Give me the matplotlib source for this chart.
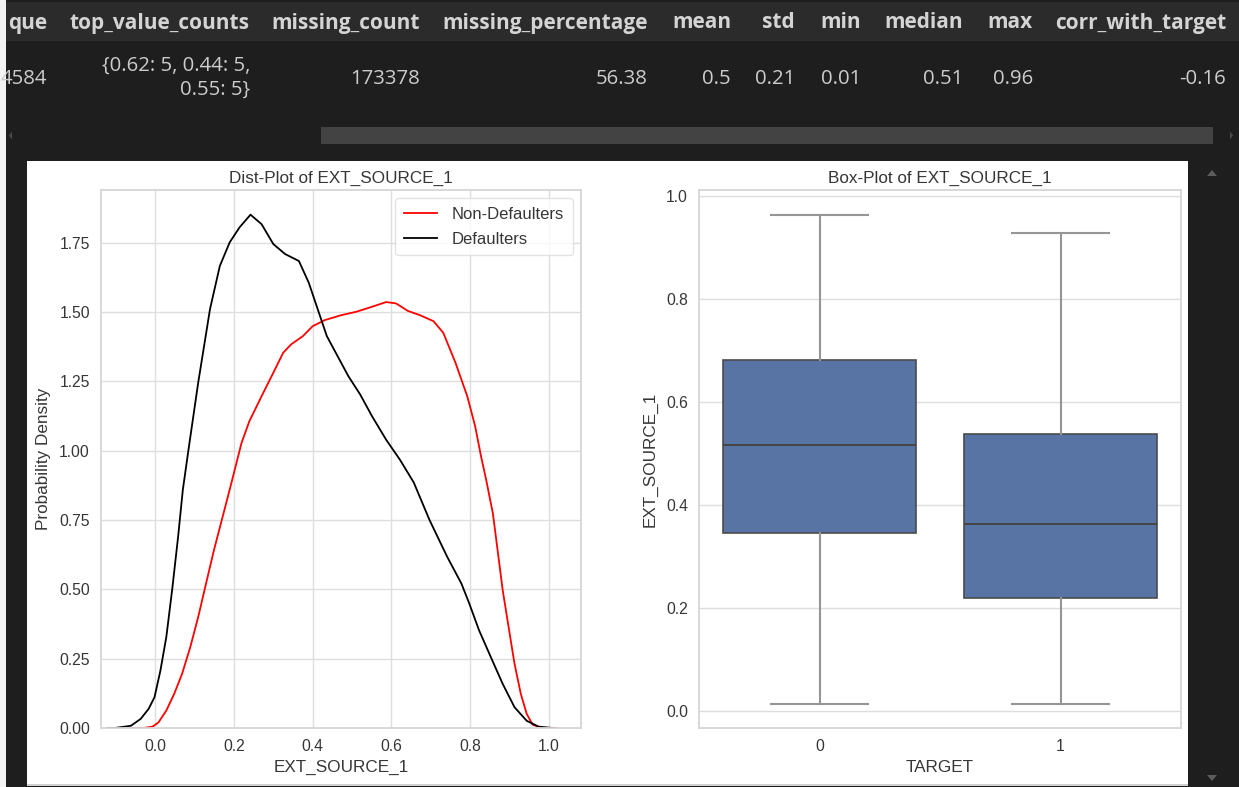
import numpy as np
import matplotlib
matplotlib.use("Agg")
import matplotlib.pyplot as plt
from matplotlib.patches import Rectangle, Polygon

W, H = 1239, 787
DPI = 100

# ---------------- data ----------------
header_labels = ["que", "top_value_counts", "missing_count", "missing_percentage",
                 "mean", "std", "min", "median", "max", "corr_with_target"]
row_values = ["4584", "{0.62: 5, 0.44: 5,\n0.55: 5}", "173378", "56.38",
              "0.5", "0.21", "0.01", "0.51", "0.96", "-0.16"]

# KDE of EXT_SOURCE_1 for TARGET == 0 (Non-Defaulters)
kde_x_non = [-0.06, -0.03, -0.007, 0.008, 0.028, 0.048, 0.068, 0.089, 0.109, 0.129,
             0.149, 0.169, 0.189, 0.204, 0.219, 0.239, 0.270, 0.300, 0.325, 0.345,
             0.375, 0.400, 0.431, 0.471, 0.511, 0.551, 0.587, 0.612, 0.642, 0.672,
             0.707, 0.732, 0.763, 0.793, 0.813, 0.828, 0.841, 0.858, 0.871, 0.883,
             0.898, 0.913, 0.929, 0.944, 0.959, 0.984, 1.02]
kde_y_non = [0.0, 0.0, 0.005, 0.02, 0.063, 0.123, 0.195, 0.292, 0.40, 0.521,
             0.641, 0.75, 0.859, 0.943, 1.027, 1.106, 1.196, 1.281, 1.353, 1.383,
             1.413, 1.449, 1.471, 1.488, 1.501, 1.519, 1.536, 1.531, 1.504, 1.489,
             1.467, 1.425, 1.317, 1.196, 1.088, 0.979, 0.895, 0.774, 0.63, 0.497,
             0.364, 0.232, 0.123, 0.051, 0.012, 0.0, 0.0]

# KDE of EXT_SOURCE_1 for TARGET == 1 (Defaulters)
kde_x_def = [-0.12, -0.103, -0.062, -0.037, -0.017, -0.002, 0.013, 0.028, 0.043, 0.058,
             0.070, 0.084, 0.109, 0.139, 0.164, 0.189, 0.214, 0.242, 0.270, 0.300,
             0.330, 0.365, 0.390, 0.410, 0.436, 0.461, 0.491, 0.521, 0.551, 0.587,
             0.622, 0.657, 0.697, 0.742, 0.778, 0.798, 0.823, 0.853, 0.883, 0.913,
             0.944, 0.974, 1.01]
kde_y_def = [0.0, 0.0, 0.008, 0.033, 0.069, 0.111, 0.207, 0.328, 0.50, 0.69,
             0.859, 1.0, 1.245, 1.51, 1.666, 1.751, 1.805, 1.851, 1.817, 1.745,
             1.709, 1.684, 1.606, 1.522, 1.413, 1.347, 1.268, 1.202, 1.124, 1.039,
             0.967, 0.885, 0.75, 0.617, 0.521, 0.449, 0.352, 0.255, 0.159, 0.075,
             0.026, 0.005, 0.0]

# Box-plot statistics per TARGET
targets = ["0", "1"]
box_whislo = [0.014, 0.014]
box_q1 = [0.345, 0.220]
box_med = [0.517, 0.362]
box_q3 = [0.681, 0.537]
box_whishi = [0.962, 0.928]

# ---------------- layout helpers ----------------
def fx(px):
    return px / W

def fy(py):
    return 1 - py / H

BG = "#1e1e1e"
fig = plt.figure(figsize=(W / DPI, H / DPI), dpi=DPI, facecolor=BG)

def rect(x0, y0, x1, y1, color):
    fig.patches.append(Rectangle((fx(x0), fy(y1)), fx(x1) - fx(x0), fy(y0) - fy(y1),
                                 transform=fig.transFigure, facecolor=color,
                                 edgecolor="none", zorder=-10))

rect(0, 0, 6, H, "#f3f3f3")          # light strip at the very left
rect(6, 2, W, 41, "#2b2b2b")         # table header band
rect(321, 127, 1213, 144, "#434343")  # horizontal scrollbar thumb
rect(27, 161, 1188, 784, "white")    # output panel
rect(27, 784, 1188, 786, "#d0d0d0")

def tri(pts, color="#5c5c5c"):
    fig.patches.append(Polygon([(fx(a), fy(b)) for a, b in pts], closed=True,
                               transform=fig.transFigure, facecolor=color,
                               edgecolor="none", zorder=-9))
tri([(9, 135.5), (12, 131.5), (12, 139.5)], "#4a4a4a")
tri([(1233, 135.5), (1230, 131.5), (1230, 139.5)], "#4a4a4a")
tri([(1212, 170), (1207, 176), (1217, 176)])
tri([(1212, 781), (1207, 775), (1217, 775)])

# table text
col_right_px = [47, 250, 420, 648, 731, 795, 861, 963, 1033, 1226]
TFONT = ["Open Sans", "DejaVu Sans"]
for lab, xr in zip(header_labels, col_right_px):
    fig.text(fx(xr), fy(23), lab, ha="right", va="center", color="#d4d4d4",
             fontsize=15, fontweight="bold", family=TFONT)
for val, xr in zip(row_values, col_right_px):
    lines = val.split("\n")
    if len(lines) == 1:
        fig.text(fx(xr), fy(78.5), val, ha="right", va="center", color="#cccccc",
                 fontsize=14.7, family=TFONT)
    else:
        for i, ln in enumerate(lines):
            fig.text(fx(xr), fy(65.5 + 24 * i), ln, ha="right", va="center",
                     color="#cccccc", fontsize=14.7, family=TFONT)

# ---------------- charts ----------------
CFONT = ["Liberation Sans", "DejaVu Sans"]
plt.rcParams["font.family"] = CFONT
TXT = "#363636"
GRID = "#dedede"
SPINE = "#d6d6d6"

def style_axes(ax, xgrid=True):
    ax.set_facecolor("white")
    for s in ax.spines.values():
        s.set_color(SPINE)
        s.set_linewidth(1.3)
    ax.grid(True, axis="y", color=GRID, linewidth=1.0)
    if xgrid:
        ax.grid(True, axis="x", color=GRID, linewidth=1.0)
    ax.set_axisbelow(True)
    ax.tick_params(length=0, pad=8, labelsize=11.3, labelcolor=TXT)

# Left: KDE
ax1 = fig.add_axes([fx(101), fy(728), fx(581 - 101), fy(190) - fy(728)])
style_axes(ax1)
ax1.plot(kde_x_non, kde_y_non, color="red", lw=1.3, label="Non-Defaulters")
ax1.plot(kde_x_def, kde_y_def, color="black", lw=1.3, label="Defaulters")
ax1.set_xlim(-0.138, 1.082)
ax1.set_ylim(0, 1.94)
ax1.set_xticks([0.0, 0.2, 0.4, 0.6, 0.8, 1.0])
ax1.set_yticks([0.0, 0.25, 0.5, 0.75, 1.0, 1.25, 1.5, 1.75])
ax1.set_yticklabels(["0.00", "0.25", "0.50", "0.75", "1.00", "1.25", "1.50", "1.75"])
ax1.set_title("Dist-Plot of EXT_SOURCE_1", fontsize=12.3, color=TXT, pad=5)
ax1.set_xlabel("EXT_SOURCE_1", fontsize=12.3, color=TXT, labelpad=4)
ax1.set_ylabel("Probability Density", fontsize=12.3, color=TXT, labelpad=6)
leg = ax1.legend(loc="upper right", fontsize=12, frameon=True, fancybox=True,
                 borderaxespad=0.5, handlelength=2.0, labelspacing=0.6,
                 borderpad=0.5, handletextpad=0.9)
leg.get_frame().set_edgecolor("#dddddd")
leg.get_frame().set_linewidth(1.0)
for t in leg.get_texts():
    t.set_color(TXT)

# Right: box plot
ax2 = fig.add_axes([fx(699), fy(728), fx(1181 - 699), fy(190) - fy(728)])
style_axes(ax2, xgrid=False)
stats = []
for t, lo, q1, md, q3, hi in zip(targets, box_whislo, box_q1, box_med, box_q3, box_whishi):
    stats.append(dict(label=t, whislo=lo, q1=q1, med=md, q3=q3, whishi=hi, fliers=[]))
ax2.bxp(stats, positions=[0, 1], widths=0.8, patch_artist=True, showfliers=False,
        capwidths=0.4,
        boxprops=dict(facecolor="#5874a4", edgecolor="#4b4b4b", linewidth=1.2),
        whiskerprops=dict(color="#959595", linewidth=1.5),
        capprops=dict(color="#959595", linewidth=1.5),
        medianprops=dict(color="#454545", linewidth=1.4))
ax2.set_xlim(-0.5, 1.5)
ax2.set_ylim(-0.033, 1.011)
ax2.set_xticks([0, 1])
ax2.set_xticklabels(targets)
ax2.set_yticks([0.0, 0.2, 0.4, 0.6, 0.8, 1.0])
ax2.set_title("Box-Plot of EXT_SOURCE_1", fontsize=12.3, color=TXT, pad=5)
ax2.set_xlabel("TARGET", fontsize=12.3, color=TXT, labelpad=4)
ax2.set_ylabel("EXT_SOURCE_1", fontsize=12.3, color=TXT, labelpad=6)

fig.savefig("out.png", dpi=DPI, facecolor=BG)
